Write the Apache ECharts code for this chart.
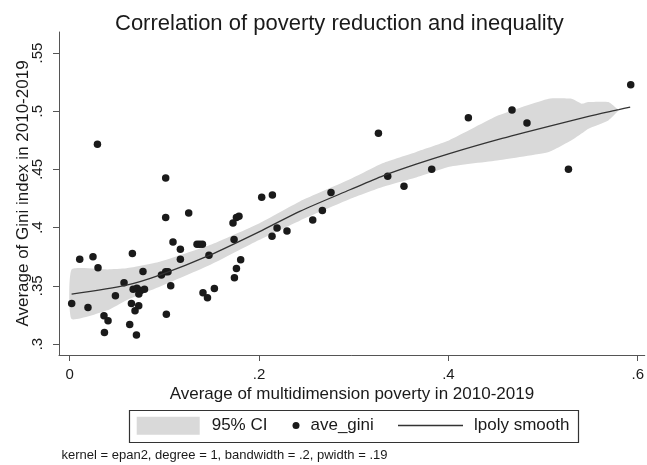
<!DOCTYPE html>
<html>
<head>
<meta charset="utf-8">
<script src="https://cdn.jsdelivr.net/npm/echarts@6/dist/echarts.min.js"></script>
<style>
  html, body { margin: 0; padding: 0; background: #fff; }
  #chart { width: 647px; height: 465px; }
</style>
</head>
<body>
<div id="chart"></div>
<script>
// scatter: average multidimensional poverty vs average gini
const povertyX = [
  .0293, .1014, .1014, .1257, .2028, .2141, .276, .2669, .2567, .2295, .219, .2137,
  .1725, .1761, .1788, .1736, .1806, .1761, .174, .1091, .1169, .1169, .1345, .1373,
  .1402, .1471, .0662, .0774, .0574, .0106, .0246, .0299, .0021, .0193, .0483, .0969,
  .1014, .1038, .1067, .1021, .1408, .1455, .1528, .067, .071, .075, .079, .073,
  .0652, .0729, .069, .0362, .0405, .0634, .0367, .0705,
  .5926, .4672, .483, .4211, .3261, .5268, .3824, .3359, .3531
];
const giniY = [
  .4715, .4426, .4087, .4126, .4261, .428, .4301, .4147, .4066, .3972, .3997, .3926,
  .404, .4087, .4098, .3898, .3723, .3649, .3569, .3877, .3815, .3729, .3858, .3858,
  .3858, .3763, .3778, .3623, .3526, .3729, .3749, .3655, .3349, .3315, .3414, .3592,
  .362, .362, .35, .3257, .344, .3397, .3478, .347, .348, .346, .347, .343,
  .3349, .3329, .3286, .3243, .32, .3169, .31, .3077,
  .5227, .501, .4898, .4944, .481, .4501, .4501, .4441, .4355
];

// lpoly smooth
const smoothX = [.002, .06, .095, .148, .2, .243, .296, .331, .366, .401, .453, .506, .548, .58, .592];
const smoothY = [.3428, .3506, .3592, .3764, .3964, .414, .4325, .4445, .4545, .4636, .4758, .487, .4955, .5013, .5035];

// 95% CI band
const bandX    = [.002, .04, .06, .095, .148, .2, .243, .296, .331, .366, .401, .453, .506, .53, .541, .548, .569, .58];
const bandLow  = [.3215, .329, .3377, .3492, .3678, .3893, .406, .4245, .435, .443, .4522, .4578, .4649, .475, .481, .485, .4921, .5007];
const bandHigh = [.3641, .3641, .365, .3706, .385, .4036, .4225, .4415, .4555, .465, .475, .4964, .5107, .5107, .5064, .5078, .5078, .5007];

const xTicks = [0, 0.2, 0.4, 0.6];
const yTicks = [0.3, 0.35, 0.4, 0.45, 0.5, 0.55];

const FONT = 'Liberation Sans, Arial, sans-serif';
const stataNum = v => (v === 0 ? '0' : String(v).replace(/^0\./, '.'));

const chart = echarts.init(document.getElementById('chart'), null, { renderer: 'canvas' });

// band polygon: upper edge left->right, then lower edge right->left
const renderBand = (params, api) => {
  if (params.dataIndex !== 0) return;
  const upper = bandX.map((x, i) => api.coord([x, bandHigh[i]]));
  const lower = bandX.map((x, i) => api.coord([x, bandLow[i]])).reverse();
  return {
    type: 'polygon',
    shape: { points: upper.concat(lower), smooth: 0.15 },
    style: { fill: '#d9d9d9' },
    silent: true
  };
};

const option = {
  animation: false,
  backgroundColor: '#fff',
  textStyle: { fontFamily: FONT },
  title: {
    text: 'Correlation of poverty reduction and inequality',
    left: 115,
    top: 13,
    padding: 0,
    textStyle: { fontFamily: FONT, fontSize: 22, fontWeight: 'normal', color: '#1a1a1a' }
  },
  grid: { left: 59, right: 2, top: 32, bottom: 110 },
  xAxis: {
    type: 'value',
    min: -0.0113,
    max: 0.6074,
    name: 'Average of multidimension poverty in 2010-2019',
    nameLocation: 'middle',
    nameGap: 31,
    nameMoveOverlap: false,
    nameTextStyle: { fontFamily: FONT, fontSize: 17, color: '#1a1a1a' },
    axisLine: { onZero: false, lineStyle: { color: '#555', width: 1 } },
    axisTick: { show: true, length: 6, customValues: xTicks, lineStyle: { color: '#555' } },
    axisLabel: {
      customValues: xTicks,
      formatter: stataNum,
      fontFamily: FONT, fontSize: 15, color: '#1a1a1a', margin: 12
    },
    splitLine: { show: false }
  },
  yAxis: {
    type: 'value',
    min: 0.2906,
    max: 0.568,
    name: 'Average of Gini index in 2010-2019',
    nameLocation: 'middle',
    nameGap: 27,
    nameMoveOverlap: false,
    nameTextStyle: { fontFamily: FONT, fontSize: 17, color: '#1a1a1a' },
    axisLine: { show: true, onZero: false, lineStyle: { color: '#555', width: 1 } },
    axisTick: { show: true, length: 6, customValues: yTicks, lineStyle: { color: '#555' } },
    axisLabel: {
      customValues: yTicks,
      formatter: stataNum,
      rotate: 90,
      fontFamily: FONT, fontSize: 15, color: '#1a1a1a', margin: 14
    },
    splitLine: { show: false }
  },
  legend: [
    {
      left: 136.7, top: 416.7, padding: 0, selectedMode: false,
      itemWidth: 63, itemHeight: 18,
      textStyle: { fontFamily: FONT, fontSize: 17, color: '#1a1a1a', padding: [0, 0, 0, 7] },
      data: [{ name: '95% CI', icon: 'rect', itemStyle: { color: '#d9d9d9', borderWidth: 0 } }]
    },
    {
      left: 292.5, top: 417, padding: 0, selectedMode: false,
      itemWidth: 7, itemHeight: 7,
      textStyle: { fontFamily: FONT, fontSize: 17, color: '#1a1a1a', padding: [0, 0, 0, 6] },
      data: [{ name: 'ave_gini', icon: 'circle', itemStyle: { color: '#1a1a1a' } }]
    },
    {
      left: 398, top: 417, padding: 0, selectedMode: false,
      itemWidth: 65, itemHeight: 1.4,
      textStyle: { fontFamily: FONT, fontSize: 17, color: '#1a1a1a', padding: [0, 0, 0, 6] },
      data: [{ name: 'lpoly smooth', icon: 'rect', itemStyle: { color: '#333' } }]
    }
  ],
  graphic: [
    {
      type: 'rect', z: -1,
      shape: { x: 129.5, y: 410.5, width: 449, height: 32 },
      style: { fill: '#fff', stroke: '#333', lineWidth: 1.2 }
    },
    {
      type: 'text', left: 61.5, top: 449,
      style: {
        text: 'kernel = epan2, degree = 1, bandwidth = .2, pwidth = .19',
        font: '13px Liberation Sans, Arial, sans-serif', fill: '#1a1a1a'
      }
    }
  ],
  series: [
    {
      name: '95% CI',
      type: 'custom',
      renderItem: renderBand,
      data: bandX.map((x, i) => [x, bandLow[i], bandHigh[i]]),
      encode: { x: 0, y: [1, 2] },
      itemStyle: { color: '#d9d9d9' },
      silent: true,
      z: 1
    },
    {
      name: 'ave_gini',
      type: 'scatter',
      data: povertyX.map((x, i) => [x, giniY[i]]),
      symbol: 'circle',
      symbolSize: 7.5,
      itemStyle: { color: '#1a1a1a', opacity: 1 },
      z: 2
    },
    {
      name: 'lpoly smooth',
      type: 'line',
      data: smoothX.map((x, i) => [x, smoothY[i]]),
      symbol: 'none',
      smooth: 0.25,
      itemStyle: { color: '#333' },
      lineStyle: { color: '#333', width: 1.3 },
      z: 3
    }
  ]
};

chart.setOption(option);
</script>
</body>
</html>
